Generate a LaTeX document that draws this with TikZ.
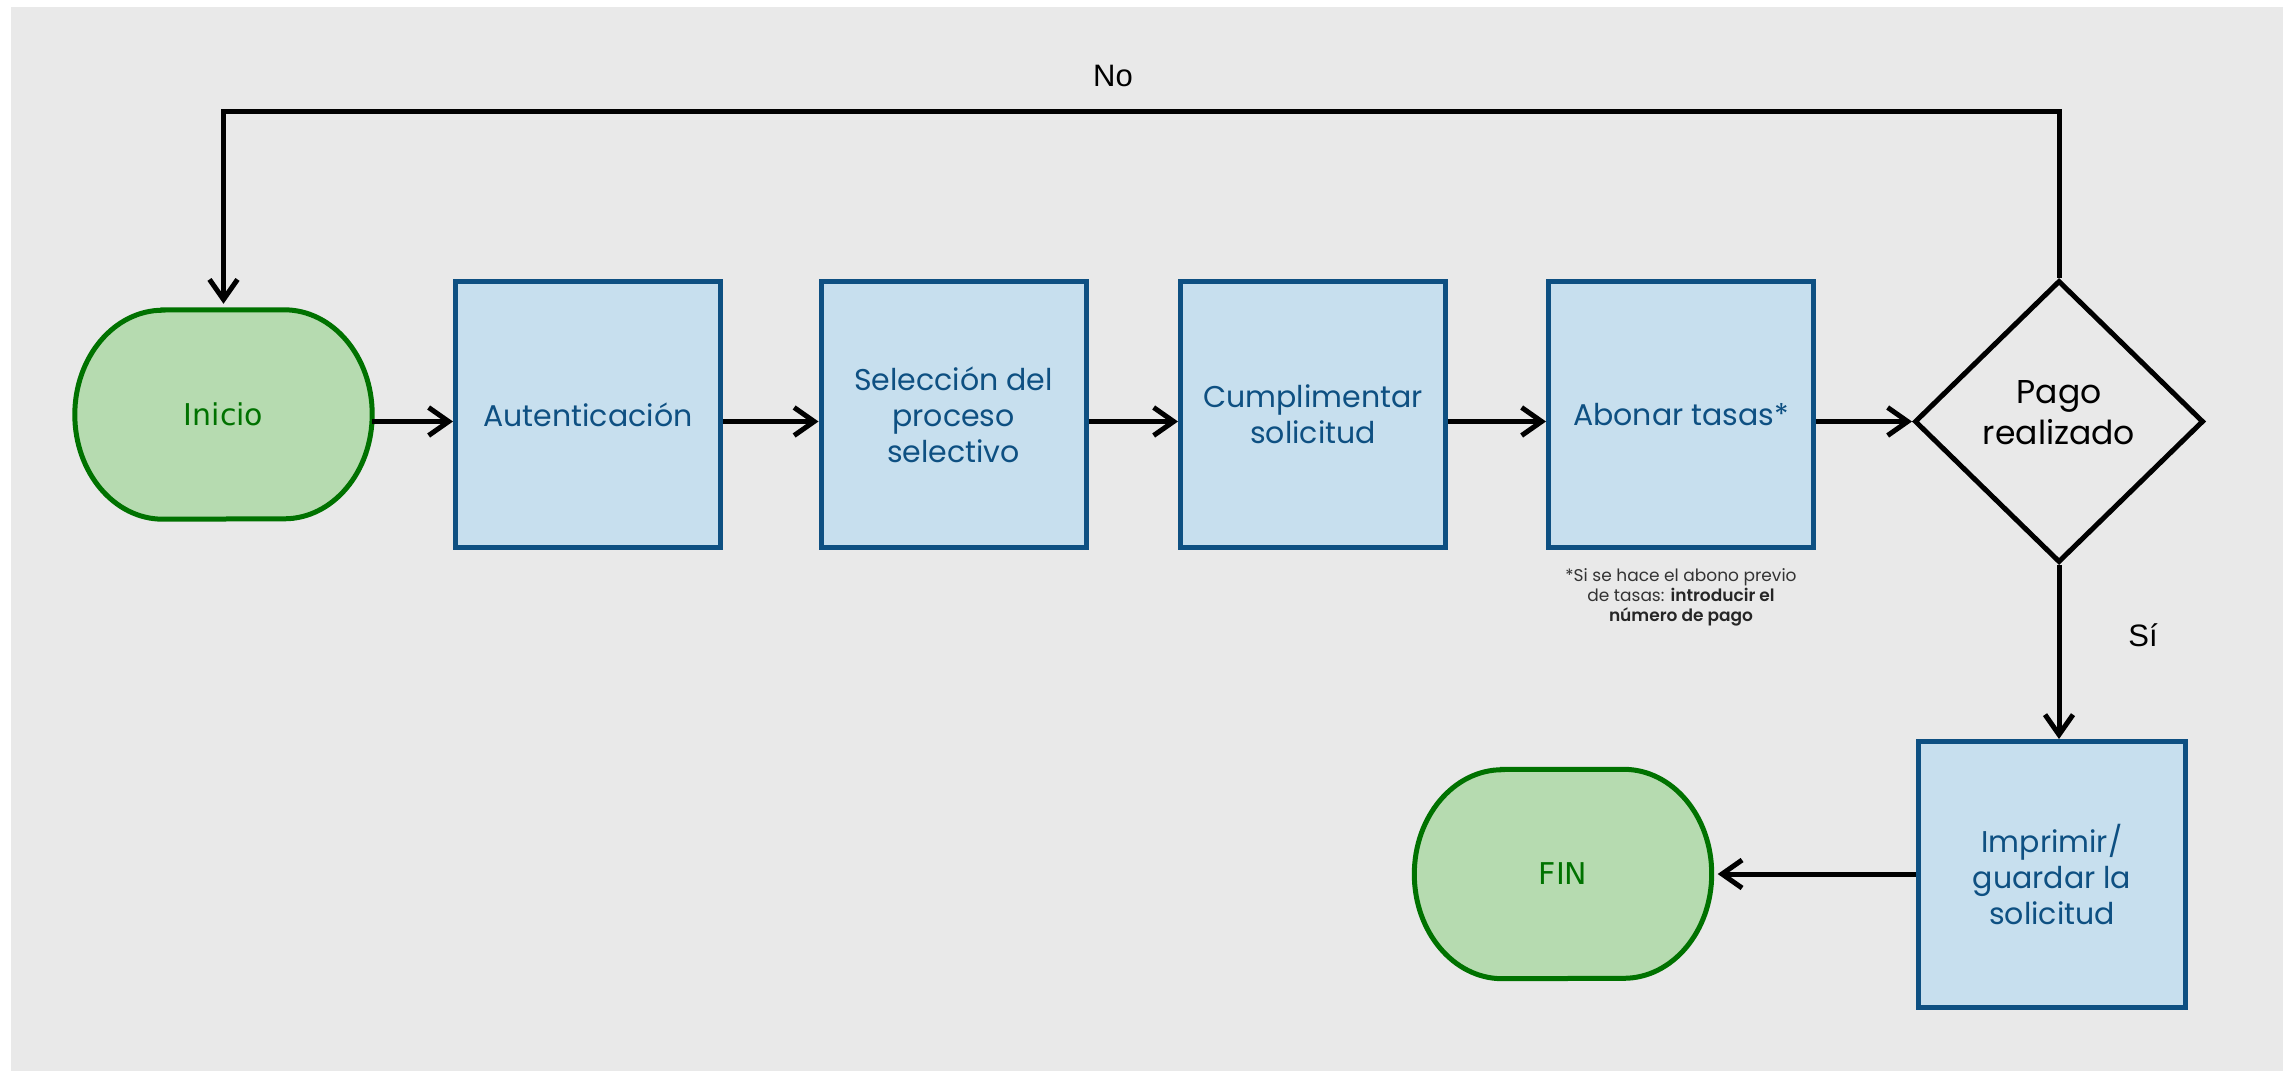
\documentclass[tikz,border=0pt]{standalone}
\usepackage{fontspec}
\setmainfont{Poppins}
\newfontfamily\termfont{DejaVu Sans}
\newfontfamily\labfont{Liberation Sans}
\newfontfamily\semib{Poppins SemiBold}
\usetikzlibrary{arrows.meta,shapes.geometric,backgrounds}
\definecolor{bggray}{HTML}{E9E9E9}
\definecolor{boxfill}{HTML}{C7DFEE}
\definecolor{boxline}{HTML}{0E5082}
\definecolor{termfill}{HTML}{B6DBB0}
\definecolor{termline}{HTML}{007200}
\definecolor{notegray}{HTML}{333333}
\newcommand{\termoutline}[1]{%
  \draw[termshape] ([xshift=88pt]#1.north west) -- ([xshift=-88pt]#1.north east)
    arc[start angle=90,end angle=-90,x radius=88pt,y radius=104.5pt]
    -- ([xshift=88pt]#1.south west)
    arc[start angle=270,end angle=90,x radius=88pt,y radius=104.5pt] -- cycle;}
\begin{document}
\begin{tikzpicture}[x=1pt,y=-1pt,
  box/.style={rectangle, draw=boxline, fill=boxfill, line width=5pt, minimum width=265pt, minimum height=266pt, inner sep=0pt, text=boxline, align=center, font=\fontsize{30}{36}\selectfont},
  term/.style={rectangle, draw=none, minimum width=297pt, minimum height=209pt, inner sep=0pt, text=termline, font=\termfont\fontsize{30}{36}\selectfont},
  termshape/.style={draw=termline, fill=termfill, line width=5pt},
  decision/.style={diamond, draw=black, line width=5pt, minimum width=289pt, minimum height=282pt, inner sep=0pt},
  dectext/.style={align=center, font=\fontsize{33}{41}\selectfont},
  conn/.style={draw=black, line width=5pt, -{Straight Barb[length=20pt,width=28pt]}},
  lab/.style={font=\labfont\fontsize{31}{36}\selectfont},
  note/.style={align=center, text=notegray, font=\fontsize{17}{20}\selectfont}]
\useasboundingbox (0,0) rectangle (2290,1071);

\node[term] (ini) at (223.5,414.5) {Inicio};
\node[box] (aut) at (588,414.5) {Autenticación};
\node[box] (sel) at (953.5,414.5) {Selección del\\proceso\\selectivo};
\node[box] (cum) at (1313,414.5) {Cumplimentar\\solicitud};
\node[box] (abo) at (1681,414.5) {Abonar tasas*};
\node[decision] (dec) at (2059,421.5) {};
\node[dectext] (dect) at (2059,413) {Pago\\realizado};
\node[box, minimum width=267pt, minimum height=266pt] (imp) at (2052,874.5) {Imprimir/\\guardar la\\solicitud};
\node[term] (fin) at (1563,874) {FIN};
\node[note] (nota) at (1681,597) {*Si se hace el abono previo\\de tasas: {\semib\color{black!85}introducir el}\\{\semib\color{black!85}número de pago}};
\node[lab] (nolab) at (1113,76) {No};
\node[lab] (silab) at (2143,635) {Sí};
\coordinate (noY) at (0,111);

\begin{pgfonlayer}{background}
  \fill[bggray] (11,7) rectangle (2283,1071);
  \termoutline{ini}
  \termoutline{fin}
\end{pgfonlayer}

\draw[conn] (ini.east |- dec.west) -- (aut.west |- dec.west);
\draw[conn] (aut.east |- dec.west) -- (sel.west |- dec.west);
\draw[conn] (sel.east |- dec.west) -- (cum.west |- dec.west);
\draw[conn] (cum.east |- dec.west) -- (abo.west |- dec.west);
\draw[conn] (abo.east |- dec.west) -- (dec.west);
\draw[conn, shorten >=6pt] (dec.north) -- (dec.north |- noY) -- (ini.north |- noY) -- (ini.north);
\draw[conn] (dec.south) -- (imp.north -| dec.south);
\draw[conn, shorten >=6pt] (imp.west |- fin.east) -- (fin.east);
\end{tikzpicture}
\end{document}
